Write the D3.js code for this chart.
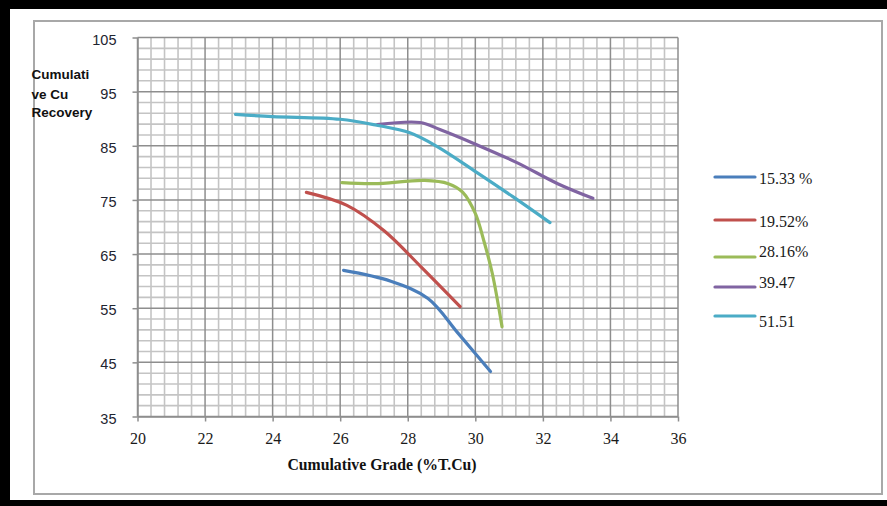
<!DOCTYPE html>
<html>
<head>
<meta charset="utf-8">
<script src="https://cdn.jsdelivr.net/npm/d3@7"></script>
<style>
  html, body { margin: 0; padding: 0; background: #fff; }
  svg { display: block; }
</style>
</head>
<body>
<svg id="chart" width="887" height="506"></svg>
<script>
// ---- Data ----
const seriesNames = ["15.33 %", "19.52%", "28.16%", "39.47", "51.51"];
const seriesColors = ["#4a7ebb", "#c0504d", "#9bbb59", "#8064a2", "#4bacc6"];
const s1533 = [[26.1,62.0],[27.5,60.0],[28.6,56.8],[29.5,50.3],[30.45,43.3]];
const s1952 = [[25.0,76.4],[26.2,74.0],[27.3,69.3],[28.4,62.6],[29.55,55.3]];
const s2816 = [[26.05,78.2],[27.0,78.0],[28.5,78.6],[29.2,78.0],[29.63,76.4],[30.0,72.5],[30.25,67.5],[30.5,61.5],[30.79,51.6]];
const s3947 = [[27.1,88.9],[28.36,89.3],[28.95,88.0],[30.04,85.2],[31.23,81.9],[32.44,78.0],[33.48,75.3]];
const s5151 = [[22.9,90.8],[24.0,90.4],[26.0,89.9],[27.08,88.8],[28.06,87.4],[28.86,84.9],[30.04,80.1],[31.11,75.6],[32.21,70.8]];
const seriesData = [s1533, s1952, s2816, s3947, s5151];
const xTicks = [20,22,24,26,28,30,32,34,36];
const yTicks = [35,45,55,65,75,85,95,105];
const xTitle = "Cumulative Grade (%T.Cu)";
const yTitleLines = ["Cumulati", "ve Cu", "Recovery"];

// ---- Layout ----
const svg = d3.select("#chart");
const L = 137.5, R = 678, T = 37.5, B = 416.5;
const x = d3.scaleLinear().domain([20, 36]).range([L, R]);
const y = d3.scaleLinear().domain([35, 105]).range([B, T]);

// outer black bands and frame
svg.append("rect").attr("x",0).attr("y",0).attr("width",887).attr("height",9).attr("fill","#000");
svg.append("rect").attr("x",0).attr("y",0).attr("width",10).attr("height",506).attr("fill","#000");
svg.append("rect").attr("x",0).attr("y",500).attr("width",887).attr("height",6).attr("fill","#000");
svg.append("rect").attr("x",34).attr("y",21).attr("width",848).attr("height",473)
  .attr("fill","#fff").attr("stroke","#a8a8a8").attr("stroke-width",2);

// grid
const g = svg.append("g");
const xMinor = d3.range(20, 36.001, 0.4).filter(v => Math.abs(v/2 - Math.round(v/2)) > 1e-6);
const yMinor = d3.range(35, 105.001, 2).filter(v => Math.abs((v-35)/10 - Math.round((v-35)/10)) > 1e-6);
g.selectAll(".vmin").data(xMinor).enter().append("line")
  .attr("x1", d => x(d)).attr("x2", d => x(d)).attr("y1", T).attr("y2", B)
  .attr("stroke", "#c4c4c4").attr("stroke-width", 1.6);
g.selectAll(".hmin").data(yMinor).enter().append("line")
  .attr("y1", d => y(d)).attr("y2", d => y(d)).attr("x1", L).attr("x2", R)
  .attr("stroke", "#c4c4c4").attr("stroke-width", 1.6);
g.selectAll(".vmaj").data(xTicks).enter().append("line")
  .attr("x1", d => x(d)).attr("x2", d => x(d)).attr("y1", T).attr("y2", B)
  .attr("stroke", "#8e8e8e").attr("stroke-width", 1.5);
g.selectAll(".hmaj").data(yTicks).enter().append("line")
  .attr("y1", d => y(d)).attr("y2", d => y(d)).attr("x1", L).attr("x2", R)
  .attr("stroke", "#8e8e8e").attr("stroke-width", 1.5);

// axes
const xAxis = d3.axisBottom(x).tickValues(xTicks).tickSize(5).tickSizeOuter(0).tickFormat(d3.format("d"));
const yAxis = d3.axisLeft(y).tickValues(yTicks).tickSize(5).tickSizeOuter(0).tickFormat(d3.format("d"));
const gx = svg.append("g").attr("transform", `translate(0,${B})`).call(xAxis);
const gy = svg.append("g").attr("transform", `translate(${L},0)`).call(yAxis);
[gx, gy].forEach(a => {
  a.select(".domain").attr("stroke", "#8e8e8e").attr("stroke-width", 1.5);
  a.selectAll(".tick line").attr("stroke", "#8e8e8e").attr("stroke-width", 1.5);
});
gx.selectAll(".tick text").attr("font-family", "'Liberation Serif', 'Times New Roman', serif")
  .attr("font-size", 16).attr("fill", "#1a1a1a").attr("dy", null).attr("y", 27.5);
gy.selectAll(".tick text").attr("font-family", "'Liberation Sans', Arial, sans-serif")
  .attr("font-size", 14.5).attr("fill", "#1e2430").attr("x", -21).attr("dy", "0.45em");

// axis titles
svg.append("text").attr("x", 287.5).attr("y", 470)
  .attr("font-family", "'Liberation Serif', 'Times New Roman', serif")
  .attr("font-weight", "bold").attr("font-size", 16).attr("fill", "#111")
  .attr("textLength", 189).attr("lengthAdjust", "spacingAndGlyphs")
  .text(xTitle);
svg.append("g").selectAll("text").data(yTitleLines).enter().append("text")
  .attr("x", 31.5).attr("y", (d, i) => [78.5, 98.5, 116.5][i])
  .attr("font-family", "'Liberation Sans', Arial, sans-serif")
  .attr("font-weight", "bold").attr("font-size", 13.5).attr("fill", "#111")
  .text(d => d);

// series
const line = d3.line().x(d => x(d[0])).y(d => y(d[1])).curve(d3.curveCatmullRom.alpha(0.5));
svg.append("g").selectAll("path").data(seriesData).enter().append("path")
  .attr("d", d => line(d)).attr("fill", "none")
  .attr("stroke", (d, i) => seriesColors[i]).attr("stroke-width", 3.2)
  .attr("stroke-linecap", "round").attr("stroke-linejoin", "round");

// legend
const legLineY = [177, 220, 257, 287, 316];
const legTextY = [184, 227, 257, 288, 327];
const lg = svg.append("g");
lg.selectAll("line").data(seriesNames).enter().append("line")
  .attr("x1", 715).attr("x2", 755)
  .attr("y1", (d, i) => legLineY[i]).attr("y2", (d, i) => legLineY[i])
  .attr("stroke", (d, i) => seriesColors[i]).attr("stroke-width", 3.2).attr("stroke-linecap", "round");
lg.selectAll("text").data(seriesNames).enter().append("text")
  .attr("x", 759).attr("y", (d, i) => legTextY[i])
  .attr("font-family", "'Liberation Serif', 'Times New Roman', serif")
  .attr("font-size", 16).attr("fill", "#1a1a1a")
  .text(d => d);
</script>
</body>
</html>
